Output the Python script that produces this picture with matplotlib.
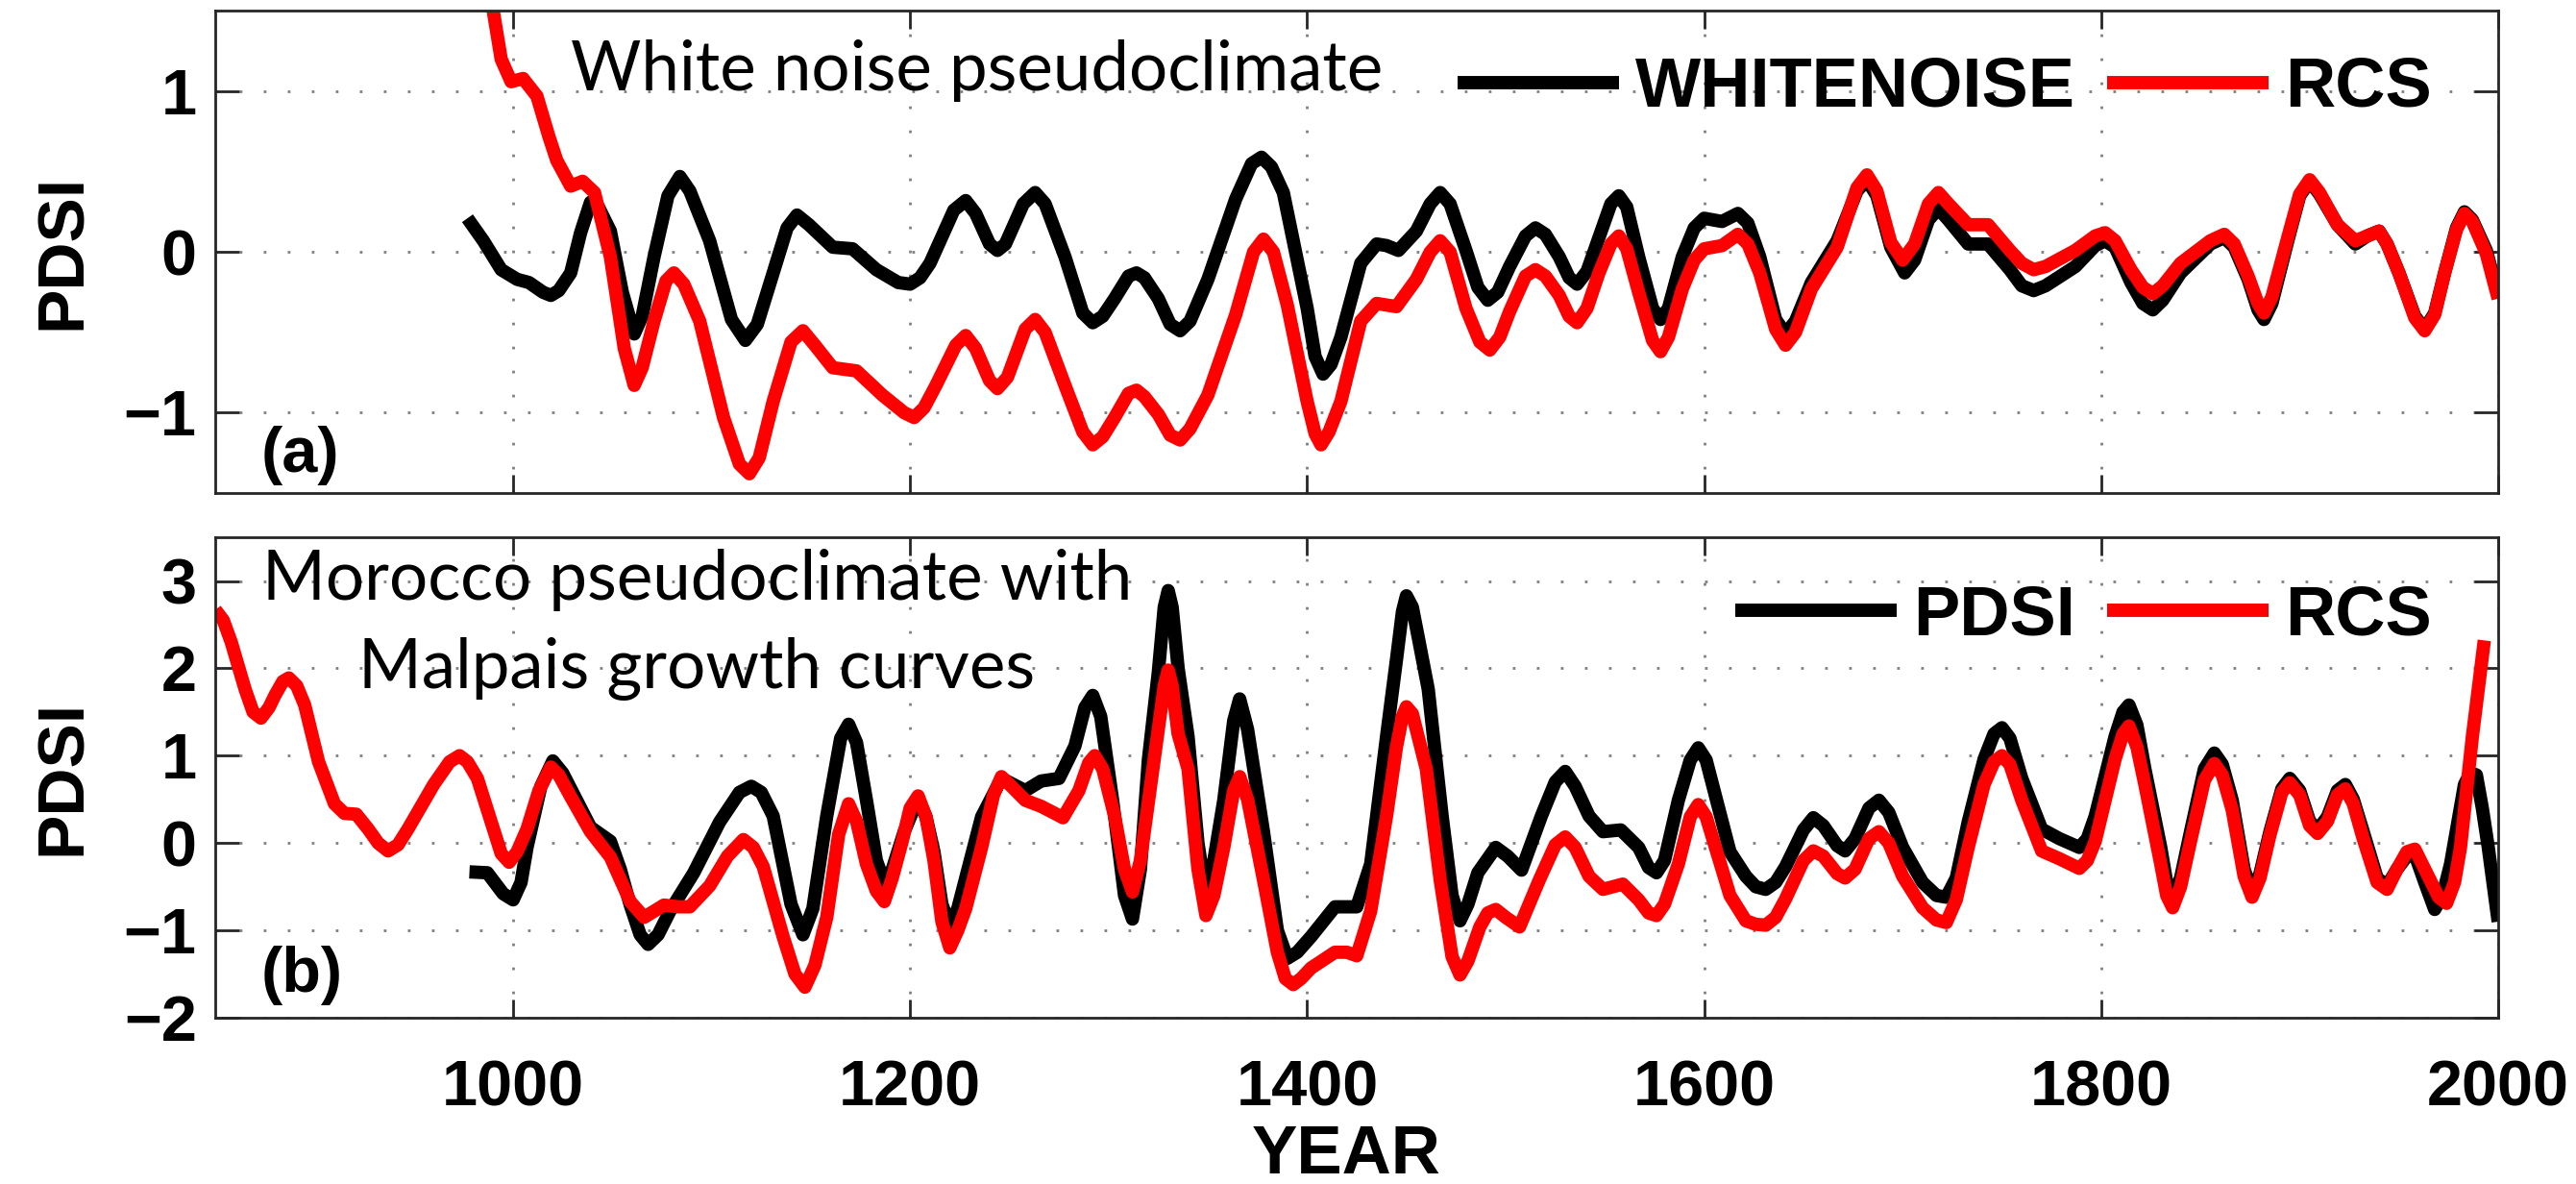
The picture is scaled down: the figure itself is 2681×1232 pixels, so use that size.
import matplotlib.pyplot as plt

plt.rcParams['font.family'] = 'Liberation Sans'
plt.rcParams['font.weight'] = 'bold'

# (year, PDSI) pairs
# panel (a): white noise pseudoclimate
whitenoise_a = [
    (977, 0.21), (985, 0.07), (994, -0.11), (1002, -0.17), (1008, -0.19), (1015, -0.25), (1019, -0.27),
    (1023, -0.24), (1029, -0.13), (1034, 0.12), (1039, 0.31), (1043, 0.28), (1049, 0.13), (1055, -0.25),
    (1061, -0.51), (1065, -0.40), (1071, -0.03), (1078, 0.35), (1084, 0.47), (1089, 0.38), (1099, 0.07),
    (1110, -0.42), (1117, -0.55), (1123, -0.45), (1131, -0.13), (1138, 0.15), (1143, 0.23), (1149, 0.17),
    (1161, 0.03), (1171, 0.02), (1183, -0.11), (1194, -0.19), (1200, -0.20), (1205, -0.16), (1210, -0.07),
    (1222, 0.26), (1228, 0.32), (1233, 0.24), (1240, 0.05), (1244, 0.01), (1248, 0.05), (1257, 0.30),
    (1263, 0.37), (1268, 0.30), (1278, -0.03), (1287, -0.38), (1292, -0.44), (1297, -0.40), (1303, -0.29),
    (1310, -0.15), (1314, -0.13), (1318, -0.16), (1325, -0.29), (1331, -0.45), (1336, -0.49), (1341, -0.43),
    (1350, -0.17), (1364, 0.33), (1372, 0.55), (1377, 0.59), (1382, 0.53), (1388, 0.37), (1400, -0.35),
    (1404, -0.65), (1408, -0.76), (1412, -0.70), (1417, -0.53), (1427, -0.07), (1435, 0.05), (1440, 0.04),
    (1446, 0.01), (1455, 0.13), (1462, 0.30), (1467, 0.37), (1472, 0.30), (1480, 0.01), (1486, -0.22),
    (1491, -0.30), (1496, -0.25), (1502, -0.09), (1510, 0.10), (1515, 0.15), (1520, 0.11), (1527, -0.03),
    (1532, -0.16), (1536, -0.20), (1541, -0.12), (1547, 0.09), (1553, 0.30), (1557, 0.35), (1561, 0.28),
    (1567, -0.03), (1574, -0.35), (1578, -0.42), (1582, -0.35), (1589, -0.03), (1595, 0.15), (1600, 0.21),
    (1609, 0.19), (1617, 0.24), (1622, 0.18), (1628, -0.03), (1636, -0.42), (1641, -0.51), (1646, -0.43),
    (1654, -0.19), (1667, 0.07), (1677, 0.38), (1682, 0.45), (1687, 0.35), (1694, 0.03), (1701, -0.13),
    (1706, -0.05), (1713, 0.20), (1718, 0.27), (1723, 0.20), (1733, 0.05), (1743, 0.05), (1754, -0.11),
    (1760, -0.21), (1766, -0.24), (1772, -0.21), (1787, -0.09), (1797, 0.04), (1802, 0.07), (1807, 0.03),
    (1815, -0.19), (1821, -0.32), (1826, -0.36), (1831, -0.30), (1840, -0.13), (1855, 0.05), (1862, 0.09),
    (1867, 0.03), (1874, -0.17), (1879, -0.36), (1882, -0.42), (1886, -0.32), (1894, 0.07), (1900, 0.35),
    (1905, 0.44), (1910, 0.36), (1919, 0.17), (1928, 0.05), (1934, 0.10), (1940, 0.13), (1944, 0.05),
    (1950, -0.13), (1958, -0.40), (1963, -0.48), (1968, -0.38), (1973, -0.13), (1979, 0.15), (1983, 0.25),
    (1987, 0.20), (1994, 0.01), (2000, -0.27),
]
rcs_a = [
    (977, 2.30), (985, 1.75), (990, 1.50), (994, 1.20), (999, 1.06), (1005, 1.08), (1012, 0.97), (1018, 0.72),
    (1022, 0.57), (1029, 0.41), (1035, 0.44), (1041, 0.37), (1049, -0.03), (1056, -0.60), (1061, -0.83),
    (1065, -0.72), (1071, -0.43), (1077, -0.18), (1081, -0.13), (1086, -0.20), (1094, -0.43), (1106, -1.03),
    (1114, -1.32), (1119, -1.38), (1124, -1.28), (1131, -0.93), (1140, -0.56), (1146, -0.49), (1152, -0.58),
    (1161, -0.72), (1173, -0.74), (1186, -0.89), (1197, -1.00), (1202, -1.03), (1207, -0.97), (1213, -0.83),
    (1223, -0.58), (1228, -0.52), (1233, -0.60), (1240, -0.80), (1244, -0.85), (1249, -0.78), (1258, -0.48),
    (1263, -0.42), (1268, -0.50), (1278, -0.83), (1287, -1.12), (1292, -1.20), (1297, -1.15), (1303, -1.03),
    (1310, -0.88), (1314, -0.86), (1318, -0.90), (1325, -1.01), (1331, -1.14), (1336, -1.17), (1341, -1.10),
    (1350, -0.89), (1364, -0.39), (1373, 0.00), (1378, 0.08), (1383, 0.00), (1390, -0.33), (1400, -0.93),
    (1404, -1.13), (1407, -1.20), (1411, -1.12), (1417, -0.93), (1427, -0.43), (1435, -0.32), (1445, -0.34),
    (1455, -0.17), (1462, 0.00), (1467, 0.07), (1472, 0.00), (1480, -0.35), (1487, -0.56), (1492, -0.61),
    (1497, -0.53), (1502, -0.37), (1510, -0.15), (1515, -0.11), (1520, -0.15), (1527, -0.27), (1532, -0.40),
    (1536, -0.44), (1541, -0.35), (1547, -0.13), (1553, 0.05), (1557, 0.10), (1561, 0.02), (1567, -0.25),
    (1574, -0.55), (1578, -0.62), (1582, -0.53), (1589, -0.23), (1595, -0.05), (1600, 0.02), (1609, 0.04),
    (1617, 0.11), (1622, 0.05), (1628, -0.13), (1636, -0.48), (1641, -0.58), (1646, -0.50), (1654, -0.23),
    (1667, 0.03), (1677, 0.40), (1682, 0.48), (1687, 0.38), (1694, 0.06), (1700, -0.05), (1706, 0.05),
    (1713, 0.30), (1718, 0.37), (1723, 0.30), (1733, 0.17), (1743, 0.17), (1754, 0.01), (1760, -0.07),
    (1766, -0.11), (1772, -0.09), (1787, 0.01), (1797, 0.10), (1802, 0.12), (1807, 0.07), (1815, -0.11),
    (1821, -0.22), (1826, -0.26), (1831, -0.21), (1840, -0.07), (1855, 0.07), (1862, 0.11), (1867, 0.05),
    (1874, -0.15), (1879, -0.32), (1882, -0.38), (1886, -0.28), (1894, 0.09), (1900, 0.36), (1905, 0.45),
    (1910, 0.37), (1919, 0.17), (1928, 0.07), (1934, 0.10), (1940, 0.13), (1944, 0.05), (1950, -0.13),
    (1958, -0.41), (1963, -0.49), (1968, -0.39), (1973, -0.13), (1979, 0.14), (1983, 0.24), (1987, 0.19),
    (1994, -0.01), (2000, -0.29),
]

# panel (b): Morocco pseudoclimate with Malpais growth curves
pdsi_b = [
    (978, -0.33), (987, -0.34), (995, -0.58), (1000, -0.65), (1004, -0.45), (1007, -0.05), (1014, 0.65),
    (1020, 0.94), (1025, 0.80), (1032, 0.49), (1039, 0.18), (1049, 0.02), (1054, -0.30), (1059, -0.71),
    (1064, -1.05), (1068, -1.16), (1073, -1.05), (1079, -0.78), (1091, -0.34), (1104, 0.24), (1114, 0.58),
    (1120, 0.65), (1125, 0.58), (1131, 0.31), (1140, -0.70), (1146, -1.05), (1151, -0.75), (1158, 0.31),
    (1165, 1.20), (1169, 1.36), (1173, 1.15), (1178, 0.49), (1183, -0.20), (1187, -0.45), (1191, -0.30),
    (1197, 0.13), (1204, 0.51), (1208, 0.30), (1212, -0.10), (1216, -0.70), (1220, -0.95), (1224, -0.75),
    (1228, -0.40), (1236, 0.30), (1246, 0.74), (1258, 0.60), (1266, 0.71), (1275, 0.74), (1283, 1.11),
    (1288, 1.55), (1292, 1.69), (1296, 1.45), (1302, 0.49), (1308, -0.60), (1312, -0.87), (1316, -0.30),
    (1320, 0.95), (1325, 1.95), (1328, 2.70), (1330, 2.89), (1332, 2.70), (1335, 2.00), (1340, 1.22),
    (1345, 0.00), (1349, -0.60), (1353, -0.20), (1358, 0.49), (1363, 1.40), (1366, 1.65), (1370, 1.30),
    (1378, 0.13), (1385, -1.00), (1390, -1.32), (1395, -1.25), (1402, -1.07), (1414, -0.73), (1425, -0.73),
    (1432, -0.24), (1440, 1.22), (1445, 2.10), (1448, 2.65), (1450, 2.83), (1453, 2.70), (1456, 2.35),
    (1461, 1.76), (1468, 0.31), (1473, -0.60), (1477, -0.89), (1481, -0.70), (1486, -0.34), (1495, -0.05),
    (1501, -0.15), (1508, -0.31), (1518, 0.31), (1525, 0.70), (1530, 0.82), (1535, 0.65), (1542, 0.31),
    (1549, 0.13), (1558, 0.15), (1567, -0.05), (1572, -0.28), (1576, -0.34), (1580, -0.20), (1587, 0.49),
    (1593, 0.95), (1597, 1.09), (1601, 0.95), (1605, 0.60), (1613, -0.10), (1621, -0.38), (1626, -0.50),
    (1631, -0.53), (1636, -0.45), (1641, -0.27), (1650, 0.15), (1655, 0.29), (1660, 0.20), (1667, -0.03),
    (1671, -0.09), (1676, 0.05), (1683, 0.40), (1688, 0.49), (1693, 0.35), (1700, -0.05), (1710, -0.45),
    (1717, -0.60), (1722, -0.62), (1727, -0.40), (1733, 0.24), (1741, 0.96), (1746, 1.25), (1750, 1.32),
    (1754, 1.20), (1760, 0.74), (1770, 0.16), (1779, 0.05), (1789, -0.05), (1793, 0.05), (1797, 0.31),
    (1807, 1.22), (1811, 1.50), (1814, 1.58), (1818, 1.35), (1822, 0.85), (1830, -0.05), (1833, -0.45),
    (1836, -0.62), (1840, -0.40), (1845, 0.13), (1852, 0.85), (1857, 1.03), (1861, 0.90), (1866, 0.49),
    (1872, -0.30), (1876, -0.56), (1880, -0.35), (1885, 0.13), (1891, 0.62), (1895, 0.74), (1900, 0.60),
    (1905, 0.25), (1909, 0.15), (1914, 0.30), (1919, 0.60), (1923, 0.67), (1927, 0.50), (1932, 0.13),
    (1939, -0.40), (1944, -0.49), (1949, -0.30), (1954, -0.15), (1958, -0.13), (1963, -0.45), (1968, -0.76),
    (1972, -0.60), (1976, -0.24), (1983, 0.67), (1986, 0.80), (1989, 0.78), (1992, 0.40), (1995, -0.05),
    (2000, -0.90),
]
rcs_b = [
    (850, 2.67), (854, 2.55), (858, 2.30), (865, 1.76), (869, 1.50), (873, 1.43), (877, 1.55), (880, 1.69),
    (884, 1.85), (887, 1.89), (891, 1.80), (895, 1.58), (902, 0.93), (910, 0.45), (915, 0.34), (921, 0.33),
    (927, 0.16), (932, 0.00), (937, -0.09), (942, -0.02), (947, 0.16), (960, 0.67), (968, 0.93), (973, 1.00),
    (977, 0.93), (982, 0.74), (989, 0.24), (994, -0.12), (998, -0.22), (1002, -0.10), (1007, 0.16),
    (1013, 0.60), (1019, 0.87), (1023, 0.78), (1029, 0.53), (1039, 0.13), (1049, -0.16), (1059, -0.67),
    (1066, -0.85), (1071, -0.78), (1076, -0.71), (1083, -0.73), (1089, -0.73), (1099, -0.49), (1108, -0.15),
    (1116, 0.04), (1121, -0.05), (1126, -0.27), (1136, -1.07), (1142, -1.50), (1147, -1.65), (1152, -1.40),
    (1158, -0.85), (1164, 0.10), (1169, 0.45), (1173, 0.25), (1178, -0.24), (1183, -0.55), (1187, -0.67),
    (1191, -0.40), (1196, 0.02), (1200, 0.40), (1204, 0.54), (1208, 0.30), (1212, -0.20), (1216, -0.90),
    (1220, -1.20), (1224, -1.00), (1228, -0.75), (1236, -0.05), (1242, 0.55), (1246, 0.76), (1251, 0.65),
    (1258, 0.49), (1266, 0.42), (1272, 0.35), (1277, 0.29), (1285, 0.60), (1290, 0.92), (1293, 1.00),
    (1297, 0.85), (1303, 0.31), (1308, -0.30), (1312, -0.56), (1316, -0.20), (1322, 0.80), (1325, 1.30),
    (1328, 1.80), (1330, 1.98), (1332, 1.80), (1335, 1.25), (1340, 0.85), (1345, -0.30), (1349, -0.83),
    (1353, -0.60), (1358, -0.05), (1363, 0.60), (1366, 0.76), (1370, 0.50), (1378, -0.42), (1385, -1.25),
    (1389, -1.55), (1393, -1.62), (1397, -1.55), (1402, -1.43), (1414, -1.25), (1420, -1.25), (1425, -1.29),
    (1432, -0.78), (1440, 0.31), (1445, 1.10), (1448, 1.45), (1450, 1.56), (1453, 1.48), (1455, 1.30),
    (1460, 0.85), (1467, -0.42), (1473, -1.30), (1477, -1.51), (1481, -1.35), (1487, -0.96), (1491, -0.80),
    (1495, -0.76), (1500, -0.85), (1507, -0.96), (1517, -0.42), (1525, -0.02), (1530, 0.07), (1535, -0.05),
    (1542, -0.38), (1549, -0.53), (1559, -0.47), (1567, -0.65), (1572, -0.80), (1576, -0.83), (1580, -0.70),
    (1587, -0.24), (1593, 0.30), (1597, 0.44), (1601, 0.30), (1605, 0.00), (1613, -0.60), (1621, -0.89),
    (1626, -0.93), (1631, -0.94), (1636, -0.85), (1641, -0.64), (1650, -0.20), (1655, -0.09), (1660, -0.15),
    (1667, -0.35), (1671, -0.40), (1676, -0.30), (1683, 0.05), (1688, 0.13), (1693, 0.00), (1700, -0.38),
    (1710, -0.74), (1717, -0.88), (1722, -0.91), (1727, -0.65), (1733, -0.05), (1741, 0.67), (1746, 0.93),
    (1750, 1.00), (1754, 0.90), (1760, 0.49), (1770, -0.09), (1779, -0.18), (1789, -0.29), (1793, -0.20),
    (1797, 0.02), (1807, 0.96), (1811, 1.25), (1814, 1.34), (1818, 1.10), (1822, 0.67), (1830, -0.24),
    (1833, -0.60), (1836, -0.74), (1840, -0.50), (1845, 0.02), (1852, 0.72), (1857, 0.91), (1861, 0.78),
    (1866, 0.38), (1872, -0.38), (1876, -0.62), (1880, -0.40), (1885, 0.09), (1891, 0.58), (1895, 0.69),
    (1900, 0.55), (1905, 0.20), (1909, 0.11), (1914, 0.25), (1919, 0.55), (1923, 0.62), (1927, 0.45),
    (1932, 0.05), (1939, -0.45), (1944, -0.53), (1949, -0.30), (1954, -0.10), (1958, -0.07), (1963, -0.30),
    (1970, -0.62), (1974, -0.69), (1978, -0.45), (1981, -0.05), (1987, 1.22), (1993, 2.32),
]

year_ticks = [1000, 1200, 1400, 1600, 1800, 2000]
LW = 10
legend_font = {'family': 'Liberation Sans', 'weight': 'bold', 'size': 52}


def draw(ax, pairs, color, label):
    x, y = zip(*pairs)
    ax.plot(x, y, color=color, lw=LW, solid_joinstyle='round', solid_capstyle='butt', label=label)


def style_axes(ax, ylim, yticks):
    ax.set_xlim(850, 2000)
    ax.set_ylim(*ylim)
    ax.set_xticks(year_ticks)
    ax.set_yticks(yticks)
    ax.grid(True, color='0.5', linestyle=(0, (1, 8)), linewidth=2)
    ax.tick_params(direction='in', top=True, right=True, width=2, labelsize=48, color='0.15')
    ax.tick_params(axis='x', length=14, pad=31)
    ax.tick_params(axis='y', length=18, pad=14)
    for s in ax.spines.values():
        s.set_linewidth(2)
        s.set_color('0.15')
    ax.set_ylabel('PDSI', fontsize=50, fontweight='bold')
    ax.yaxis.set_label_coords(-0.053, 0.5)


fig = plt.figure(figsize=(26.81, 12.32), dpi=100)
ax1 = fig.add_axes([0.0836, 0.5836, 0.8862, 0.4071])
ax2 = fig.add_axes([0.0836, 0.1404, 0.8862, 0.4058])

# (a)
draw(ax1, whitenoise_a, 'black', 'WHITENOISE')
draw(ax1, rcs_a, 'red', 'RCS')
style_axes(ax1, (-1.5, 1.5), [-1, 0, 1])
ax1.tick_params(axis='x', labelbottom=False)
ax1.text(0.1557, 0.8355, 'White noise pseudoclimate', transform=ax1.transAxes,
         family='Lato', fontweight='normal', fontsize=51, va='baseline', ha='left')
ax1.text(0.02, 0.016, '(a)', transform=ax1.transAxes, fontsize=48, fontweight='bold', va='bottom')
ax1.legend(loc='center right', bbox_to_anchor=(0.971, 0.8395), ncol=2, frameon=False, prop=legend_font,
           handlelength=2.33, handletextpad=0.24, columnspacing=0.45, borderpad=0, borderaxespad=0)

# (b)
draw(ax2, pdsi_b, 'black', 'PDSI')
draw(ax2, rcs_b, 'red', 'RCS')
style_axes(ax2, (-2, 3.5), [-2, -1, 0, 1, 2, 3])
ax2.text(0.211, 0.87, 'Morocco pseudoclimate with', transform=ax2.transAxes,
         family='Lato', fontweight='normal', fontsize=51, va='baseline', ha='center')
ax2.text(0.211, 0.686, 'Malpais growth curves', transform=ax2.transAxes,
         family='Lato', fontweight='normal', fontsize=51, va='baseline', ha='center')
ax2.text(0.02, 0.026, '(b)', transform=ax2.transAxes, fontsize=48, fontweight='bold', va='bottom')
ax2.legend(loc='center right', bbox_to_anchor=(0.971, 0.836), ncol=2, frameon=False, prop=legend_font,
           handlelength=2.33, handletextpad=0.24, columnspacing=0.45, borderpad=0, borderaxespad=0)
ax2.set_xlabel('YEAR', fontsize=51, fontweight='bold')
ax2.xaxis.set_label_coords(0.4954, -0.222)

fig.savefig('out.png', dpi=100)
